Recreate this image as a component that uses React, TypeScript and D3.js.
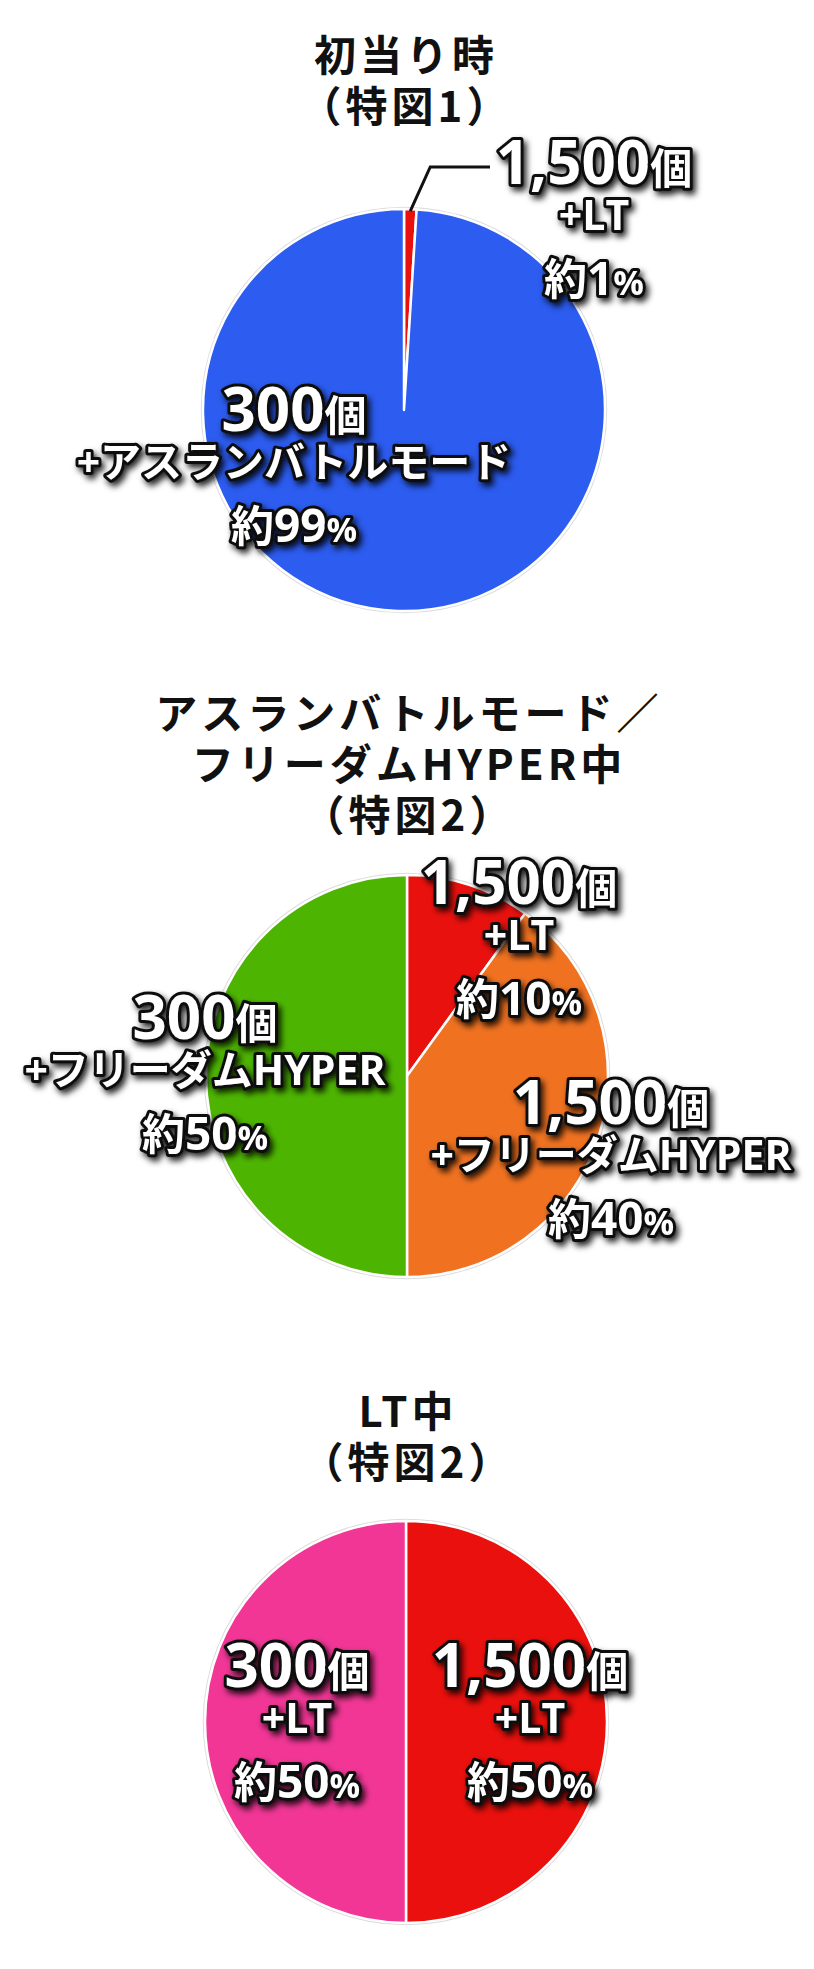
import React from 'react'
import * as d3 from 'd3'

const W = 814
const H = 1969

// chart 1: 初当り時
const titles1 = ['初当り時', '（特図1）']
const prizes1 = ['1,500', '300']
const bonus1 = ['+LT', '+アスランバトルモード']
const share1 = [1, 99]
const colors1 = ['#e9110e', '#2c5cf0']

// chart 2: アスランバトルモード／フリーダムHYPER中
const titles2 = ['アスランバトルモード／', 'フリーダムHYPER中', '（特図2）']
const prizes2 = ['1,500', '1,500', '300']
const bonus2 = ['+LT', '+フリーダムHYPER', '+フリーダムHYPER']
const share2 = [10, 40, 50]
const colors2 = ['#e9110e', '#f07221', '#4db502']

// chart 3: LT中
const titles3 = ['LT中', '（特図2）']
const prizes3 = ['1,500', '300']
const bonus3 = ['+LT', '+LT']
const share3 = [50, 50]
const colors3 = ['#ea100d', '#f23696']

const R = 201
const labelFont = "'Open Sans', 'Noto Sans CJK JP', sans-serif"
const titleFont = "'Noto Sans CJK JP', sans-serif"

// layout: pie centre, title baseline, label anchors (relative to centre)
const charts = [
  { titles: titles1, prizes: prizes1, bonus: bonus1, share: share1, colors: colors1,
    cx: 404, cy: 410, titleY: 71, anchors: [[190, -180], [-110, 67]], leaderFor: 0 },
  { titles: titles2, prizes: prizes2, bonus: bonus2, share: share2, colors: colors2,
    cx: 407, cy: 1076, titleY: 729, anchors: [[112, -126], [204, 94], [-202, 9]], leaderFor: -1 },
  { titles: titles3, prizes: prizes3, bonus: bonus3, share: share3, colors: colors3,
    cx: 406, cy: 1722, titleY: 1427, anchors: [[124, 11], [-109, 11]], leaderFor: -1 }
]

const pie = d3.pie<number>().sort(null).value(d => d)
const arc = d3.arc<d3.PieArcDatum<number>>().innerRadius(0).outerRadius(R)

const outline = {
  fill: '#fff',
  stroke: '#111',
  strokeWidth: 6,
  strokeLinejoin: 'round' as const,
  paintOrder: 'stroke' as const,
  filter: 'url(#shadow)'
}

function Label({ x, y, prize, bonus, pct }: { x: number; y: number; prize: string; bonus: string; pct: number }) {
  return (
    <g fontFamily={labelFont} fontWeight={700} textAnchor="middle" style={outline}>
      <text x={x} y={y - 46}>
        <tspan fontSize={60}>{prize}</tspan>
        <tspan fontSize={42}>個</tspan>
      </text>
      <text x={x} y={y} fontSize={41}>{bonus}</text>
      <text x={x} y={y + 65}>
        <tspan fontSize={43}>約</tspan>
        <tspan fontSize={46}>{pct}</tspan>
        <tspan fontSize={34}>%</tspan>
      </text>
    </g>
  )
}

function Chart({ c }: { c: typeof charts[number] }) {
  const arcs = pie(c.share)
  return (
    <g>
      <g fontFamily={titleFont} fontWeight={700} fontSize={42} textAnchor="middle" fill="#111" letterSpacing={4}>
        {c.titles.map((t, i) => (
          <text key={i} x={c.cx + 2} y={c.titleY + i * 51}>{t}</text>
        ))}
      </g>
      <g transform={`translate(${c.cx},${c.cy})`}>
        <circle r={R + 1.5} fill="none" stroke="#dcdcdc" strokeWidth={1.5} />
        {arcs.map((a, i) => (
          <path key={i} d={arc(a) || ''} fill={c.colors[i]} stroke="#fff" strokeWidth={2.5} strokeLinejoin="round" />
        ))}
        {arcs.map((a, i) => {
          if (i !== c.leaderFor) return null
          const mid = (a.startAngle + a.endAngle) / 2
          const sx = Math.sin(mid) * R * 0.99
          const sy = -Math.cos(mid) * R * 0.99
          const [ax, ay] = c.anchors[i]
          const pts: [number, number][] = [[sx, sy], [sx + 20, ay - 63], [ax - 104, ay - 63]]
          return <path key={'l' + i} d={d3.line()(pts) || ''} fill="none" stroke="#111" strokeWidth={3} />
        })}
        {arcs.map((a, i) => (
          <Label key={'t' + i} x={c.anchors[i][0]} y={c.anchors[i][1]}
            prize={c.prizes[i]} bonus={c.bonus[i]} pct={c.share[i]} />
        ))}
      </g>
    </g>
  )
}

export default function App() {
  return (
    <svg width={W} height={H} viewBox={`0 0 ${W} ${H}`}
      style={{ position: 'absolute', left: 0, top: 0, background: '#fff' }}>
      <defs>
        <filter id="shadow" x="-20%" y="-40%" width="140%" height="180%">
          <feDropShadow dx={3} dy={4} stdDeviation={3} floodColor="#000" floodOpacity={0.85} />
        </filter>
      </defs>
      <rect width={W} height={H} fill="#fff" />
      {charts.map((c, i) => <Chart key={i} c={c} />)}
    </svg>
  )
}
